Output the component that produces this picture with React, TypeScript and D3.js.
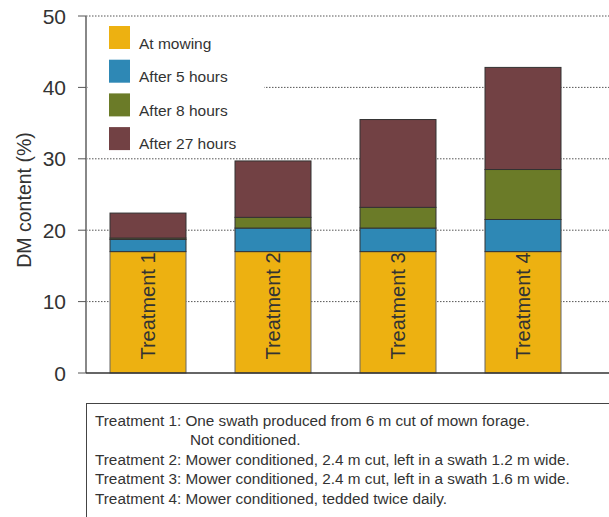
import React from "react";
import * as d3 from "d3";

const categories = ["Treatment 1", "Treatment 2", "Treatment 3", "Treatment 4"];
const seriesNames = ["At mowing", "After 5 hours", "After 8 hours", "After 27 hours"];
const atMowing = [17, 17, 17, 17];
const after5 = [1.7, 3.3, 3.3, 4.5];
const after8 = [0.2, 1.5, 2.9, 7.0];
const after27 = [3.5, 7.9, 12.3, 14.3];
const colors = ["#EDB111", "#2E88B5", "#6B7B28", "#724144"];
const yTicks = [0, 10, 20, 30, 40, 50];
const notes = [
  "Treatment 1: One swath produced from 6 m cut of mown forage.",
  "Not conditioned.",
  "Treatment 2: Mower conditioned, 2.4 m cut, left in a swath 1.2 m wide.",
  "Treatment 3: Mower conditioned, 2.4 m cut, left in a swath 1.6 m wide.",
  "Treatment 4: Mower conditioned, tedded twice daily.",
];

export default function App() {
  const W = 609, H = 517;
  const axisX = 86;
  const y = d3.scaleLinear().domain([0, 50]).range([373, 16]);
  const x = d3.scaleBand().domain(categories).range([86, 585]).paddingInner(0.392).paddingOuter(0.192);
  const table = categories.map((c, i) => ({
    cat: c,
    s0: atMowing[i], s1: after5[i], s2: after8[i], s3: after27[i],
  }));
  const stacked = d3.stack<any>().keys(["s0", "s1", "s2", "s3"])(table);
  const font = "'Liberation Sans', Arial, sans-serif";
  const txt = "#333";
  return (
    <div style={{ position: "absolute", left: 0, top: 0 }}>
      <svg width={W} height={H} style={{ display: "block", fontFamily: font }}>
        <rect width={W} height={H} fill="#fff" />
        {/* gridlines */}
        {yTicks.filter((t) => t > 0).map((t) => (
          <line key={t} x1={axisX} x2={W} y1={y(t)} y2={y(t)} stroke="#555" strokeWidth={1} strokeDasharray="1.5,1.5" />
        ))}
        {/* legend background */}
        <rect x={axisX + 2} y={20} width={176} height={135} fill="#fff" />
        {/* bars */}
        {stacked.map((layer, li) =>
          layer.map((d, i) => (
            <rect
              key={li + "-" + i}
              x={x(categories[i])}
              width={x.bandwidth()}
              y={y(d[1])}
              height={y(d[0]) - y(d[1])}
              fill={colors[li]}
              stroke={li === 0 ? "#666" : "#333"}
              strokeWidth={1}
            />
          ))
        )}
        {/* treatment labels */}
        {categories.map((c) => {
          const cx = (x(c) as number) + x.bandwidth() / 2;
          const cy = 306;
          return (
            <text key={c} x={cx} y={cy} transform={`rotate(-90 ${cx} ${cy})`} textAnchor="middle" dominantBaseline="central" fontSize={20} fill={txt}>
              {c}
            </text>
          );
        })}
        {/* axis */}
        <line x1={axisX} x2={axisX} y1={y(50)} y2={y(0)} stroke="#888" strokeWidth={2} />
        <line x1={axisX} x2={W} y1={y(0)} y2={y(0)} stroke="#333" strokeWidth={1.5} />
        {yTicks.map((t) => (
          <g key={t}>
            <line x1={78} x2={axisX} y1={y(t)} y2={y(t)} stroke="#555" strokeWidth={1} />
            <text x={66} y={y(t)} textAnchor="end" dominantBaseline="central" fontSize={21} fill={txt}>
              {t}
            </text>
          </g>
        ))}
        <text x={24} y={200} transform="rotate(-90 24 200)" textAnchor="middle" dominantBaseline="central" fontSize={19.5} fill={txt}>
          DM content (%)
        </text>
        {/* legend */}
        {seriesNames.map((s, i) => (
          <g key={s}>
            <rect x={109} y={26 + i * 33.7} width={21} height={23} fill={colors[i]} />
            <text x={139} y={49 + i * 33.3} fontSize={15.5} fill={txt}>
              {s}
            </text>
          </g>
        ))}
        {/* notes box */}
        <rect x={86.5} y={403.5} width={540} height={130} fill="none" stroke="#444" strokeWidth={1} />
        {notes.map((n, i) => (
          <text key={i} x={i === 1 ? 190 : 95} y={426 + i * 19.4} fontSize={15.3} fill={txt}>
            {n}
          </text>
        ))}
      </svg>
    </div>
  );
}
